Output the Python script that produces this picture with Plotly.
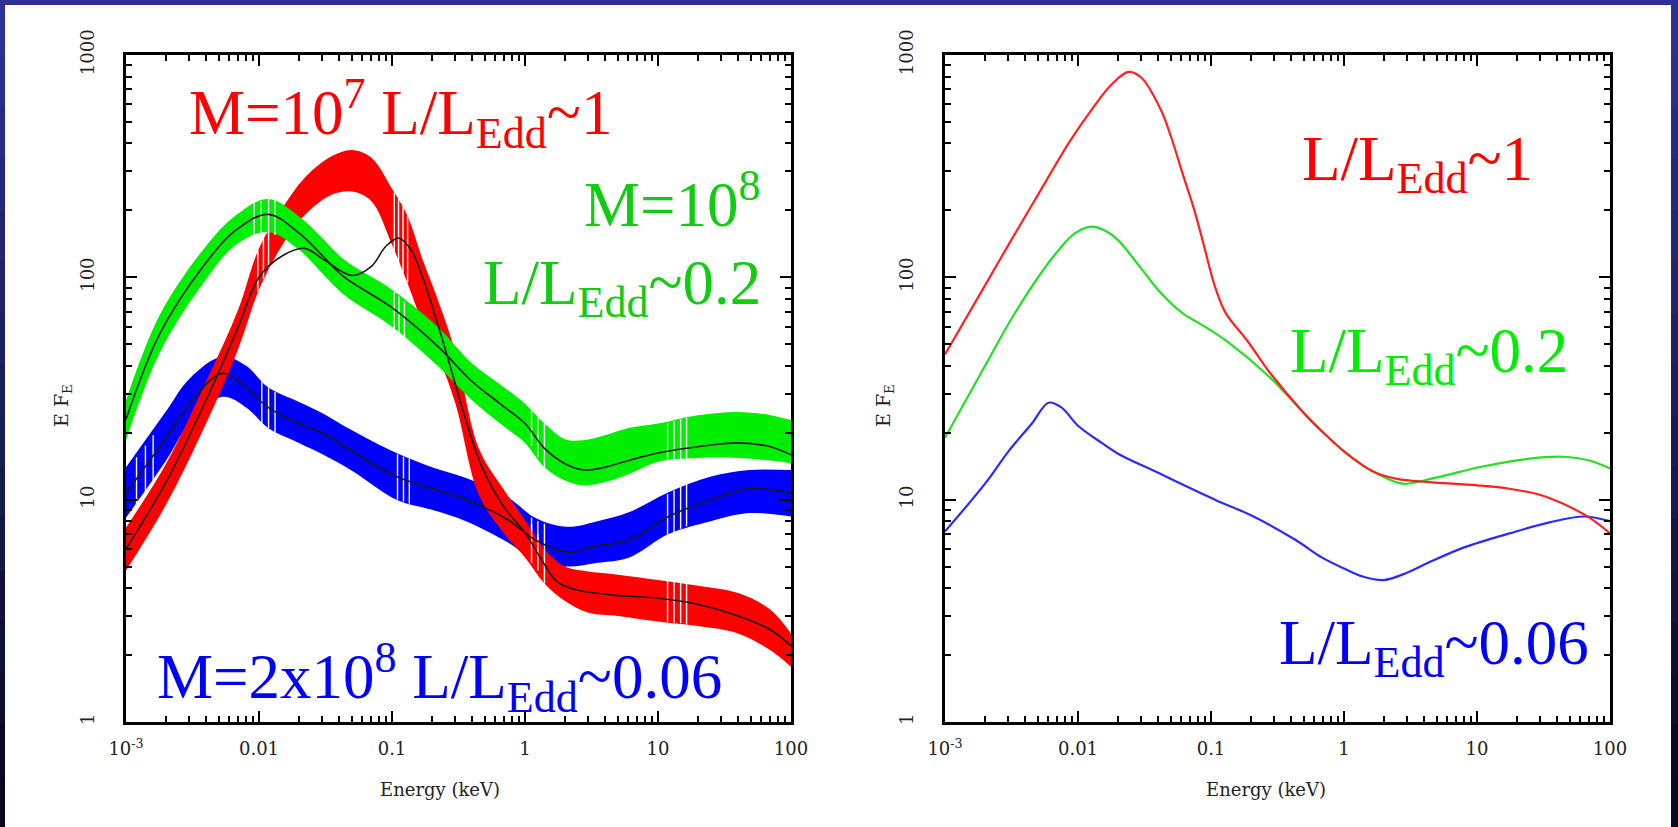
import plotly.graph_objects as go

W, H = 1678, 827

# ---------------- left panel: fitted spectra with uncertainty bands ----------------
# M=1e7, L/LEdd~1 (red band) and its black model curve
red_E = [0.001, 0.002, 0.004, 0.007, 0.01, 0.015, 0.022, 0.035, 0.05, 0.07, 0.1, 0.13,
         0.17, 0.22, 0.3, 0.45, 0.7, 1.0, 1.4, 2.0, 3.0, 5.0, 10, 20, 40, 70, 100]
red_lo = [4.8, 9.5, 22, 48, 88, 140, 190, 235, 243, 220, 140, 95,
          62, 45, 27, 10.5, 7.0, 5.5, 4.2, 3.5, 3.1, 3.0, 2.83, 2.7, 2.5, 2.1, 1.77]
red_hi = [7.5, 14.5, 34, 72, 135, 205, 280, 350, 374, 345, 250, 190,
          120, 80, 46, 17, 11, 8.1, 6.0, 5.0, 4.75, 4.6, 4.35, 4.1, 3.8, 3.2, 2.5]

red_model_E = [0.001, 0.002, 0.004, 0.007, 0.01, 0.015, 0.022, 0.032, 0.05, 0.07, 0.09,
               0.113, 0.14, 0.17, 0.22, 0.27, 0.35, 0.475, 0.7, 1.0, 1.3, 1.72, 2.2,
               3.0, 5.0, 10, 19, 40, 70, 100]
red_model = [6.0, 12, 28, 60, 100, 125, 135, 118, 102, 112, 138,
             150, 132, 100, 62, 41, 24, 14, 9.2, 7.1, 5.5, 4.3, 4.0,
             3.84, 3.7, 3.6, 3.4, 3.0, 2.6, 2.2]

# M=1e8, L/LEdd~0.2 (green band)
green_E = [0.001, 0.0018, 0.0038, 0.0067, 0.0117, 0.02, 0.03, 0.043, 0.1, 0.22, 0.4,
           0.65, 1.0, 1.4, 2.0, 2.75, 4.0, 6.0, 10, 20, 40, 70, 100]
green_mid = [23, 56, 112, 163, 192, 158, 125, 101, 73, 49, 34,
             27, 22, 17, 14.5, 13.6, 14, 15, 16.2, 17.3, 18, 17.3, 15.9]
green_lo = [18.5, 46, 94, 140, 160, 133, 104, 84, 60, 40, 28,
            22, 18, 14, 12.2, 11.6, 12, 13, 14.8, 15.4, 15.4, 15, 14.6]
green_hi = [28, 68, 133, 190, 225, 188, 150, 121, 88, 60, 41,
            33, 27, 22, 18.7, 18.5, 19.5, 21, 22, 24, 24.8, 24, 22.8]

# M=2e8, L/LEdd~0.06 (blue band)
blue_E = [0.001, 0.002, 0.003, 0.0053, 0.008, 0.0117, 0.02, 0.03, 0.05, 0.108, 0.2,
          0.36, 0.75, 1.19, 2.08, 3.5, 6.1, 12, 25, 48.5, 100]
blue_mid = [10.7, 19, 27, 37, 32, 26, 22, 20, 16.5, 12.7, 11.2,
            10, 8.1, 6.6, 5.8, 6.2, 6.6, 8.4, 10, 11.2, 10.7]
blue_lo = [8.3, 15, 22, 29, 26, 21, 18, 16, 13.5, 10, 9,
           8, 6.4, 5.3, 5.0, 5.2, 5.5, 7.0, 8, 8.7, 8.4]
blue_hi = [14, 25, 35, 44, 40, 32, 27.5, 24.5, 20.5, 16.2, 14,
           12.5, 10.2, 8.3, 7.55, 8.0, 8.8, 10.8, 12.7, 13.6, 13.6]

# empty energy bins (white slits through the bands): energy, band bottom, band top
red_gap_E = [0.0098, 0.0108, 0.0118, 0.104, 0.112, 0.121, 0.131, 1.12, 1.25, 1.4,
             11.8, 13.2, 14.8, 16.4]
red_gap_lo = [86, 98, 110, 130, 115, 105, 95, 5.2, 4.8, 4.2, 2.82, 2.8, 2.78, 2.75]
red_gap_hi = [132, 150, 160, 240, 225, 210, 190, 7.8, 7.0, 6.0, 4.32, 4.3, 4.27, 4.22]

green_gap_E = [0.0092, 0.0104, 0.0118, 0.0132, 0.104, 0.113, 0.124, 1.12, 1.25, 1.4,
               11.8, 13.2, 14.8, 16.4]
green_gap_lo = [150, 155, 158, 155, 58, 55, 52, 17.5, 15.5, 14, 14.8, 14.9, 15, 15.1]
green_gap_hi = [215, 220, 225, 222, 86, 82, 78, 26.5, 24, 22, 22, 22.5, 23, 23.3]

blue_gap_E = [0.0012, 0.0014, 0.0016, 0.0105, 0.0118, 0.0132, 0.11, 0.122, 0.135,
              1.12, 1.25, 1.4, 11.8, 13.2, 14.8, 16.4]
blue_gap_lo = [9.5, 10.8, 12.2, 22, 21, 20, 10, 9.8, 9.6, 5.3, 5.1, 5.0, 6.9, 7.1, 7.4, 7.6]
blue_gap_hi = [15.5, 17.5, 19.5, 34, 32, 30.5, 16, 15.6, 15.3, 8.3, 8.0, 7.8,
               10.6, 11, 11.4, 11.8]

# ---------------- right panel: model spectra ----------------
r_red_E = [0.001, 0.002, 0.003, 0.005, 0.0087, 0.013, 0.018, 0.024, 0.03, 0.042, 0.05,
           0.061, 0.075, 0.089, 0.107, 0.129, 0.187, 0.27, 0.5, 0.7, 1.0, 1.4, 1.73,
           2.5, 4.3, 10, 17.5, 30, 44, 70, 100]
r_red = [45, 92, 140, 235, 410, 580, 740, 840, 790, 566, 430,
         294, 200, 137, 91, 69, 52, 38, 24.5, 20, 16.5, 14.2, 13.2,
         12.4, 12.0, 11.6, 11.2, 10.5, 9.6, 8.3, 7.05]

r_green_E = [0.001, 0.002, 0.0035, 0.0066, 0.0095, 0.0127, 0.016, 0.02, 0.029, 0.042,
             0.061, 0.09, 0.129, 0.27, 0.5, 0.7, 1.0, 1.4, 1.73, 2.75, 5, 11, 25, 44, 70, 100]
r_green = [19, 40, 72, 125, 158, 169, 162, 147, 112, 85,
           69, 60, 52, 36, 24.5, 20, 16.5, 14.2, 13.2, 11.8, 12.6, 14.1, 15.3, 15.6, 15, 13.8]

r_blue_E = [0.001, 0.002, 0.003, 0.0045, 0.006, 0.0075, 0.01, 0.0153, 0.02, 0.04, 0.107,
            0.2, 0.43, 0.68, 1.0, 1.4, 1.99, 3.0, 4.3, 8, 17.5, 35, 64, 100]
r_blue = [7.2, 11.8, 16.5, 22, 27.3, 26, 21.5, 17.9, 16.1, 13.2, 10,
          8.5, 6.6, 5.5, 4.9, 4.5, 4.35, 4.7, 5.2, 6.1, 7.05, 7.9, 8.4, 8.0]

x_tickvals = [0.001, 0.01, 0.1, 1, 10, 100]
x_ticktext = ["10<sup>-3</sup>", "0.01", "0.1", "1", "10", "100"]
y_tickvals = [1, 10, 100, 1000]
y_ticktext = ["1", "10", "100", "1000"]

RED, GREEN, BLUE = "#ff0000", "#00ee00", "#0000ff"

fig = go.Figure()


def add_band(x, lo, hi, color, xa, ya):
    fig.add_trace(go.Scatter(x=x, y=lo, mode="lines", xaxis=xa, yaxis=ya,
                             line=dict(width=0, color=color, shape="spline", smoothing=1.0),
                             showlegend=False, hoverinfo="skip"))
    fig.add_trace(go.Scatter(x=x, y=hi, mode="lines", xaxis=xa, yaxis=ya,
                             line=dict(width=0, color=color, shape="spline", smoothing=1.0),
                             fill="tonexty", fillcolor=color,
                             showlegend=False, hoverinfo="skip"))


def add_gaps(es, lo, hi, xa, ya):
    xs, ys = [], []
    for e, a, b in zip(es, lo, hi):
        xs += [e, e, None]
        ys += [a, b, None]
    fig.add_trace(go.Scatter(x=xs, y=ys, mode="lines", xaxis=xa, yaxis=ya,
                             line=dict(width=1.4, color="white"), connectgaps=False,
                             showlegend=False, hoverinfo="skip"))


def add_line(x, y, color, width, xa, ya):
    fig.add_trace(go.Scatter(x=x, y=y, mode="lines", xaxis=xa, yaxis=ya,
                             line=dict(width=width, color=color, shape="spline", smoothing=1.0),
                             showlegend=False, hoverinfo="skip"))


# left panel bands (each with its empty bins), then the black model curves on top
add_band(blue_E, blue_lo, blue_hi, BLUE, "x", "y")
add_gaps(blue_gap_E, blue_gap_lo, blue_gap_hi, "x", "y")
add_band(red_E, red_lo, red_hi, RED, "x", "y")
add_gaps(red_gap_E, red_gap_lo, red_gap_hi, "x", "y")
add_band(green_E, green_lo, green_hi, GREEN, "x", "y")
add_gaps(green_gap_E, green_gap_lo, green_gap_hi, "x", "y")
add_line(blue_E, blue_mid, "#1a1a1a", 1.6, "x", "y")
add_line(green_E, green_mid, "#1a1a1a", 1.6, "x", "y")
add_line(red_model_E, red_model, "#1a1a1a", 1.6, "x", "y")

# right panel curves
add_line(r_blue_E, r_blue, "#2a2aff", 2.2, "x2", "y2")
add_line(r_green_E, r_green, "#22e022", 2.2, "x2", "y2")
add_line(r_red_E, r_red, "#ff2020", 2.2, "x2", "y2")

tick_font = dict(family="DejaVu Serif", size=18, color="#222222")
minor_x = [k * 10.0 ** e for e in range(-3, 2) for k in range(2, 10)]
minor_y = [k * 10.0 ** e for e in range(0, 3) for k in range(2, 10)]


def xaxis_cfg(domain, anchor):
    return dict(domain=domain, anchor=anchor, type="log", range=[-3, 2],
                tickmode="array", tickvals=x_tickvals, ticktext=x_ticktext,
                ticks="inside", ticklen=11, tickwidth=2, tickcolor="black",
                showline=True, linecolor="black", linewidth=2.5, mirror="allticks",
                showgrid=False, zeroline=False, tickfont=tick_font, ticklabelstandoff=9,
                automargin=False,
                minor=dict(tickmode="array", tickvals=minor_x, ticks="inside",
                           ticklen=6, tickwidth=1.6, tickcolor="black", showgrid=False))


def yaxis_cfg(domain, anchor):
    return dict(domain=domain, anchor=anchor, type="log", range=[0, 3],
                tickmode="array", tickvals=y_tickvals, ticktext=y_ticktext,
                tickangle=-90,
                ticks="inside", ticklen=11, tickwidth=2, tickcolor="black",
                showline=True, linecolor="black", linewidth=2.5, mirror="allticks",
                showgrid=False, zeroline=False, tickfont=tick_font, ticklabelstandoff=22,
                automargin=False,
                minor=dict(tickmode="array", tickvals=minor_y, ticks="inside",
                           ticklen=6, tickwidth=1.6, tickcolor="black", showgrid=False))


def px(x):
    return x / W


def py(y):
    return 1 - y / H


y_dom = [py(722), py(55)]
fig.update_layout(
    width=W, height=H,
    margin=dict(l=0, r=0, t=0, b=0, pad=0, autoexpand=False),
    paper_bgcolor="white", plot_bgcolor="white",
    xaxis=xaxis_cfg([px(126), px(791)], "y"),
    yaxis=yaxis_cfg(y_dom, "x"),
    xaxis2=xaxis_cfg([px(945), px(1610)], "y2"),
    yaxis2=yaxis_cfg(y_dom, "x2"),
)

# dark slide frame: navy fading to near-black down the sides
shapes = [dict(type="rect", xref="paper", yref="paper", x0=0, x1=1, y0=py(5), y1=1,
               fillcolor="#2e3192", line=dict(width=0), layer="above")]
n_seg = 16
for i in range(n_seg):
    t = i / (n_seg - 1)
    r = int(46 * (1 - t) + 8 * t)
    g = int(49 * (1 - t) + 8 * t)
    b = int(146 * (1 - t) + 30 * t)
    col = f"rgb({r},{g},{b})"
    y_top = 5 + i * (H - 5) / n_seg
    y_bot = min(H, 5 + (i + 1) * (H - 5) / n_seg + 2)
    for x0, x1 in ((0, 5), (1671, W)):
        shapes.append(dict(type="rect", xref="paper", yref="paper",
                           x0=px(x0), x1=px(x1), y0=py(y_bot), y1=py(y_top),
                           fillcolor=col, line=dict(width=0), layer="above"))
fig.update_layout(shapes=shapes)

big = "Liberation Serif"
ann = []


def label(text, x, y, color, xanchor, size=63):
    ann.append(dict(text=text, x=px(x), y=py(y), xref="paper", yref="paper",
                    xanchor=xanchor, yanchor="middle", showarrow=False,
                    font=dict(family=big, size=size, color=color)))


# left panel labels
label("M=10<sup>7</sup> L/L<sub>Edd</sub>~1", 187, 114, "#ff0000", "left")
label("M=10<sup>8</sup>", 763, 200, "#11cc11", "right")
label("L/L<sub>Edd</sub>~0.2", 763, 287, "#11cc11", "right")
label("M=2x10<sup>8</sup> L/L<sub>Edd</sub>~0.06", 155, 677, "#0000ff", "left")
# right panel labels
label("L/L<sub>Edd</sub>~1", 1300, 163, "#ff0000", "left")
label("L/L<sub>Edd</sub>~0.2", 1288, 355, "#00ee00", "left")
label("L/L<sub>Edd</sub>~0.06", 1277, 647, "#0000ff", "left")

# axis titles
for cx in (440, 1266):
    ann.append(dict(text="Energy (keV)", x=px(cx), y=py(789), xref="paper", yref="paper",
                    xanchor="center", yanchor="middle", showarrow=False,
                    font=dict(family="DejaVu Serif", size=18, color="#222222")))
for cx in (63, 885):
    ann.append(dict(text="E F<sub>E</sub>", x=px(cx), y=py(406), xref="paper", yref="paper",
                    xanchor="center", yanchor="middle", showarrow=False, textangle=-90,
                    font=dict(family="DejaVu Serif", size=19, color="#222222")))

fig.update_layout(annotations=ann)

fig.write_html("out.html")
